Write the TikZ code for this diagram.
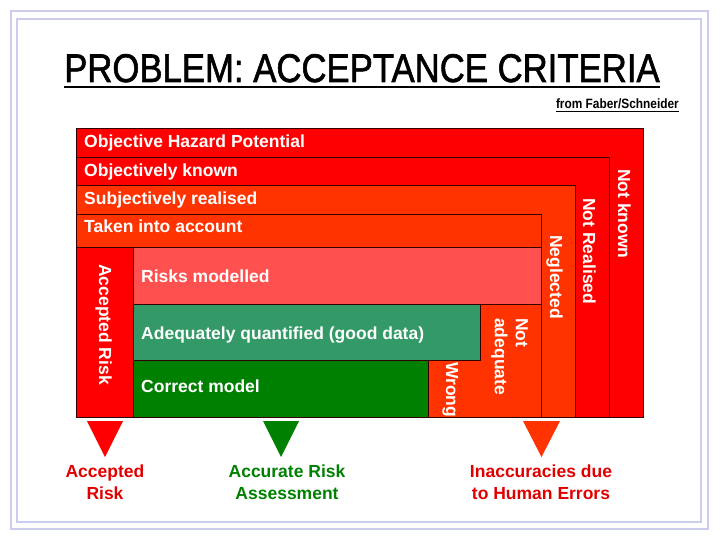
\documentclass[tikz,border=0pt]{standalone}
\usepackage{fontspec}
\setmainfont{Liberation Sans}
\newfontfamily\titlefont{Liberation Sans}[FakeBold=1.6]
\definecolor{hred}{RGB}{255,0,0}
\definecolor{orng}{RGB}{255,51,0}
\definecolor{salmon}{RGB}{255,80,80}
\definecolor{seagrn}{RGB}{51,153,102}
\definecolor{ggreen}{RGB}{0,128,0}
\definecolor{bord}{RGB}{51,0,0}
\definecolor{labred}{RGB}{225,0,0}
\definecolor{framec}{RGB}{204,204,238}
\begin{document}
\begin{tikzpicture}[x=1pt,y=-1pt,
  zone/.style={draw=bord, line width=0.8pt},
  frameline/.style={draw=framec, line width=2pt},
  lab/.style={text=white, font=\bfseries\fontsize{17.5}{21}\selectfont, inner sep=0pt, anchor=base west},
  vlab/.style={lab, rotate=-90},
  blab/.style={font=\bfseries\fontsize{17.5}{22}\selectfont, align=center, inner sep=0pt, anchor=center}
]
\useasboundingbox (0,0) rectangle (720,540);
% frame
\draw[frameline] (10.5,11.5) rectangle (708,529);
\draw[frameline] (17,19) rectangle (701,522);
% title
\node[anchor=base west, inner sep=0pt] (title) at (64,82)
  {\scalebox{0.868}[1]{\titlefont\fontsize{40}{40}\selectfont PROBLEM: ACCEPTANCE CRITERIA}};
\draw[line width=2.8pt] ([yshift=-5pt]title.base west) -- ([yshift=-5pt]title.base east);
\node[anchor=base east, inner sep=0pt] (src) at (679,109)
  {\scalebox{0.88}[1]{\bfseries\fontsize{13.5}{13.5}\selectfont from Faber/Schneider}};
\draw[line width=1pt] ([yshift=-2.5pt]src.base west) -- ([yshift=-2.5pt]src.base east);
% nested zones
\draw[zone, fill=hred] (76,128) rectangle (643,417);
\draw[zone, fill=hred] (76,157) rectangle (609,417);
\draw[zone, fill=orng] (76,185) rectangle (575,417);
\draw[zone, fill=orng] (76,214) rectangle (541,417);
\draw[zone, fill=hred] (76,247) rectangle (133,417);
\draw[zone, fill=salmon] (133,247) rectangle (541,304);
\draw[zone, fill=seagrn] (133,304) rectangle (480,360);
\draw[zone, fill=ggreen] (133,360) rectangle (428,417);
% horizontal labels
\node[lab] (ohp) at (84,148) {Objective Hazard Potential};
\node[lab] (ok) at (84,177) {Objectively known};
\node[lab] (sr) at (84,205) {Subjectively realised};
\node[lab] (ta) at (84,233) {Taken into account};
\node[lab] (rm) at (141,282) {Risks modelled};
\node[lab] (aq) at (141,339) {Adequately quantified (good data)};
\node[lab] (cm) at (141,392) {Correct model};
% vertical labels
\node[vlab] (nk) at (618,169) {Not known};
\node[vlab] (nr) at (583,198) {Not Realised};
\node[vlab] (ng) at (550,235) {Neglected};
\node[vlab, anchor=north west, align=left] (na) at (528,318) {Not\\adequate};
\begin{scope}
  \clip (428,360) rectangle (541,417);
  \node[vlab] (wr) at (446,362) {Wrong};
\end{scope}
\draw[bord, line width=0.8pt] (76,417) -- (643,417);
\node[vlab] (ar) at (99,264) {Accepted Risk};
% triangles
\fill[hred] (87,421) -- (123,421) -- (105,457) -- cycle;
\fill[ggreen] (263,421) -- (299,421) -- (281,457) -- cycle;
\fill[orng] (523,421) -- (560,421) -- (541.5,457) -- cycle;
% bottom labels
\node[blab, text=labred] (l1) at (105,482) {Accepted\\Risk};
\node[blab, text=ggreen] (l2) at (287,482) {Accurate Risk\\Assessment};
\node[blab, text=labred] (l3) at (541,482) {Inaccuracies due\\to Human Errors};
\end{tikzpicture}
\end{document}
